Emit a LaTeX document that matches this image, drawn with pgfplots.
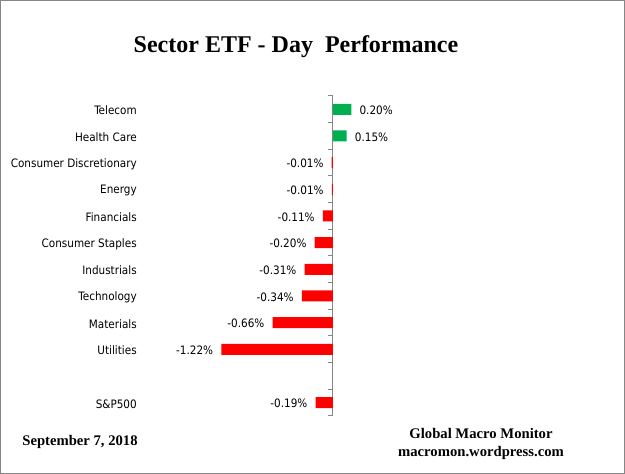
\documentclass[border=0pt]{standalone}
\usepackage{pgfplots}
\pgfplotsset{compat=1.18}
\usepackage{fontspec}
\setmainfont{Liberation Serif}
\newfontfamily\tah{DejaVu Sans Condensed}
\definecolor{xlgreen}{HTML}{00B050}
\definecolor{xlred}{HTML}{FF0000}
\definecolor{xlgray}{HTML}{868686}
\begin{document}
\begin{tikzpicture}
\useasboundingbox (0,0) rectangle (468.75pt,355.5pt);
\draw[xlgray, line width=0.75pt] (0.375pt,0.375pt) rectangle (468.375pt,355.125pt);
\begin{axis}[
    at={(108.75pt,43.5pt)}, anchor=south west,
    scale only axis, width=251.25pt, height=240pt,
    xmin=-2.055, xmax=1.607, ymin=-0.5, ymax=11.5,
    xbar, bar width=8.25pt,
    axis line style={draw=none},
    xtick=\empty,
    ytick={0,2,3,4,5,6,7,8,9,10,11},
    yticklabels={S\&P500,Utilities,Materials,Technology,Industrials,Consumer Staples,Financials,Energy,Consumer Discretionary,Health Care,Telecom},
    major tick length=0pt,
    yticklabel style={font=\tah\fontsize{8.7}{10}\selectfont, anchor=east, inner sep=0pt, xshift=-6pt, yshift=-1pt},
    point meta=x,
    nodes near coords={\pgfmathprintnumber[fixed,fixed zerofill,precision=2,assume math mode=true]{\pgfplotspointmeta}\%},
    every node near coord/.append style={font=\tah\fontsize{8.7}{10}\selectfont, inner sep=0pt, yshift=-0.75pt},
    clip=false
]
\draw[xlgray, line width=0.75pt] (axis cs:0,-0.5) -- (axis cs:0,11.5);
\pgfplotsinvokeforeach{-0.5,0.5,1.5,2.5,3.5,4.5,5.5,6.5,7.5,8.5,9.5,10.5,11.5}{
  \draw[xlgray, line width=0.75pt] (axis cs:0,#1) -- ++(-3.75pt,0pt);
}
\addplot[draw=none, fill=xlgreen, bar shift=0pt,
  every node near coord/.append style={anchor=west, xshift=6pt}]
  coordinates {(0.20,11) (0.15,10)};
\addplot[draw=none, fill=xlred, bar shift=0pt,
  every node near coord/.append style={anchor=east, xshift=-6pt}]
  coordinates {(-0.014,9) (-0.012,8) (-0.11,7) (-0.20,6) (-0.31,5) (-0.34,4) (-0.66,3) (-1.22,2) (-0.19,0)};
\end{axis}
\node[font=\bfseries\fontsize{18}{21}\selectfont] at (222pt,320.5pt) {Sector ETF - Day\ \ Performance};
\node[font=\bfseries\fontsize{11}{13}\selectfont] at (60pt,24pt) {September 7, 2018};
\node[font=\bfseries\fontsize{11}{13}\selectfont, align=center] at (360.75pt,22.5pt) {Global Macro Monitor\\[0pt]macromon.wordpress.com};
\end{tikzpicture}
\end{document}
